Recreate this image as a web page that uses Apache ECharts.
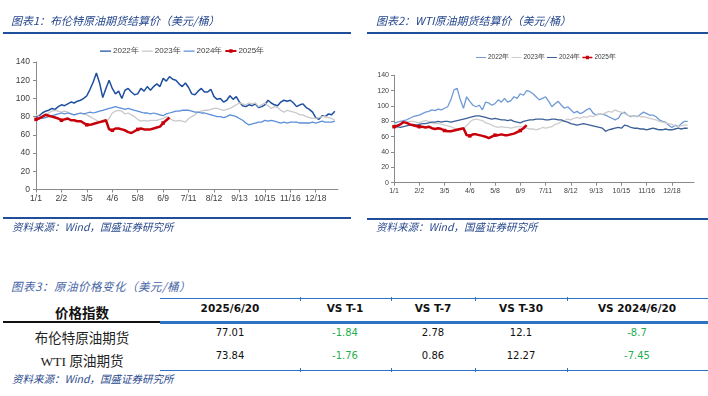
<!DOCTYPE html>
<html>
<head>
<meta charset="utf-8">
<script src="https://cdn.jsdelivr.net/npm/echarts@6/dist/echarts.min.js"></script>
<style>
  body { margin: 0; background: #fff; }
  #page { position: relative; width: 708px; height: 396px; overflow: hidden; background: #fff; }
  .chart { position: absolute; top: 0; width: 354px; height: 240px; }
  .t { position: absolute; white-space: nowrap; }
  .title { font: italic 11px "Noto Sans CJK SC", sans-serif; color: #24468c; }
  .src { font: italic 10.5px "Noto Sans CJK SC", sans-serif; color: #2a4a8c; }
  .rule { position: absolute; height: 2px; background: #1f4e9a; }
  .hl { position: absolute; background: #2e74c6; }
  .cell { position: absolute; width: 160px; text-align: center; height: 18px; line-height: 18px; white-space: nowrap; }
  .hd { font: bold 10.5px "DejaVu Sans", sans-serif; color: #111; }
  .num { font: 10px "DejaVu Sans", sans-serif; color: #111; }
  .neg { color: #1fae4f; }
  .rowname { font: 13.5px "Liberation Serif", "Noto Sans CJK SC", serif; color: #222; }
</style>
</head>
<body>
<div id="page">
  <div id="chart1" class="chart" style="left:0"></div>
  <div id="chart2" class="chart" style="left:354px"></div>

  <div class="t title" style="left:11px;top:12px">图表1：布伦特原油期货结算价（美元/桶）</div>
  <div class="rule" style="left:3px;top:32px;width:348px"></div>
  <div class="rule" style="left:3px;top:217px;width:348px"></div>
  <div class="t src" style="left:12px;top:219px">资料来源：Wind，国盛证券研究所</div>

  <div class="t title" style="left:376px;top:12px">图表2：WTI原油期货结算价（美元/桶）</div>
  <div class="rule" style="left:367px;top:32px;width:341px"></div>
  <div class="rule" style="left:367px;top:218px;width:341px"></div>
  <div class="t src" style="left:376px;top:219px">资料来源：Wind，国盛证券研究所</div>

  <div class="t title" style="left:11px;top:278px;color:#4866a6;font-size:11.5px;letter-spacing:0.5px">图表3：原油价格变化（美元/桶）</div>
  <div id="table"></div>
  <div class="t src" style="left:12px;top:371px">资料来源：Wind，国盛证券研究所</div>
</div>
<script>
// x axis: one slot every 4 days, a label every 8 slots
var dayTicks = ['1/1', '2/2', '3/5', '4/6', '5/8', '6/9', '7/11', '8/12', '9/13', '10/15', '11/16', '12/18'];
var slotCount = 96;
var slotsPerTick = 8;
var legendNames = ['2022年', '2023年', '2024年', '2025年'];

// 布伦特 (USD/bbl)
var brent2022 = [79, 81, 84, 86, 87, 89, 88, 91, 93, 92,
  94, 96, 95, 97, 98, 100, 103, 110, 118, 128,
  117, 101, 111, 120, 111, 105, 108, 100, 109, 111,
  107, 104, 105, 111, 108, 113, 109, 113, 116, 113,
  122, 119, 124, 121, 120, 116, 113, 117, 112, 105,
  104, 108, 111, 107, 107, 110, 102, 99, 100, 96,
  98, 103, 99, 102, 96, 92, 91, 93, 92, 94,
  90, 91, 93, 98, 95, 93, 92, 96, 98, 97,
  98, 95, 91, 93, 94, 90, 88, 85, 79, 77,
  81, 80, 83, 82, 86];
var brent2023 = [82, 80, 79, 82, 84, 86, 87, 86, 85, 86,
  85, 83, 82, 83, 84, 83, 82, 80, 78, 76,
  74, 74, 75, 78, 84, 86, 87, 86, 83, 84,
  82, 80, 77, 75, 76, 75, 76, 76, 76, 77,
  78, 80, 78, 76, 75, 76, 75, 74, 78, 80,
  82, 85, 86, 87, 87, 88, 89, 89, 88, 87,
  88, 89, 91, 93, 95, 94, 93, 95, 94, 95,
  91, 93, 95, 92, 89, 91, 90, 87, 85, 87,
  86, 85, 84, 82, 82, 80, 79, 78, 78, 79,
  80, 80, 79, 78, 76];
var brent2024 = [78, 79, 78, 79, 80, 81, 82, 83, 84, 83,
  84, 83, 82, 83, 84, 83, 84, 85, 84, 85,
  86, 87, 88, 89, 90, 91, 90, 89, 88, 89,
  88, 87, 86, 85, 84, 84, 83, 84, 83, 82,
  81, 83, 84, 85, 86, 86, 87, 87, 87, 86,
  85, 85, 84, 84, 83, 82, 81, 80, 80, 79,
  80, 82, 81, 80, 78, 76, 73, 71, 72, 73,
  74, 74, 76, 75, 76, 75, 74, 73, 74, 73,
  74, 74, 74, 73, 73, 73, 73, 74, 73, 74,
  75, 74, 74, 74, 75];
var brent2025 = [77, 78, 80, 82, 81, 80, 79, 78, 76, 77,
  78, 76, 76, 75, 75, 73, 71, 71, 72, 73,
  74, 75, 76, 66, 65, 67, 67, 66, 65, 63,
  62, 64, 66, 67, 66, 66, 66, 67, 68, 69,
  73, 76, 79];

// WTI (USD/bbl)
var wti2022 = [77, 79, 80, 81, 82, 84, 86, 87, 88, 90,
  92, 93, 95, 94, 96, 95, 97, 99, 108, 121,
  123, 108, 97, 112, 106, 101, 99, 101, 95, 105,
  104, 101, 103, 108, 105, 110, 105, 107, 112, 110,
  116, 114, 120, 119, 116, 112, 108, 110, 112, 106,
  99, 103, 106, 101, 97, 99, 95, 91, 93, 90,
  92, 95, 97, 91, 88, 90, 89, 88, 86, 84,
  82, 84, 90, 92, 88, 86, 87, 86, 89, 92,
  90, 88, 88, 86, 82, 80, 79, 75, 72, 75,
  73, 77, 80, 80];
var wti2023 = [77, 75, 76, 78, 79, 80, 80, 79, 78, 80,
  81, 80, 78, 77, 77, 76, 75, 74, 73, 71,
  70, 69, 71, 74, 79, 82, 83, 82, 81, 78,
  77, 75, 73, 72, 73, 72, 72, 71, 72, 73,
  73, 72, 71, 70, 70, 69, 70, 72, 71, 72,
  73, 76, 77, 80, 81, 83, 82, 84, 85, 84,
  86, 85, 87, 86, 88, 90, 89, 91, 93, 92,
  95, 93, 92, 90, 88, 87, 86, 87, 86, 86,
  85, 84, 83, 82, 80, 79, 78, 77, 76, 74,
  73, 74, 75, 75];
var wti2024 = [72, 73, 72, 73, 74, 75, 76, 75, 76, 77,
  77, 78, 79, 79, 80, 79, 80, 80, 79, 80,
  81, 82, 83, 84, 85, 86, 87, 87, 86, 85,
  84, 83, 84, 83, 82, 82, 81, 82, 80, 79,
  78, 80, 81, 82, 82, 83, 83, 83, 82, 82,
  83, 83, 82, 82, 80, 79, 77, 76, 75, 76,
  77, 76, 75, 74, 73, 72, 71, 67, 69, 70,
  71, 72, 71, 75, 74, 72, 71, 71, 70, 70,
  69, 70, 71, 70, 69, 69, 70, 69, 69, 70,
  71, 70, 71, 71];
var wti2025 = [73, 74, 76, 79, 78, 76, 75, 74, 73, 73,
  72, 73, 71, 70, 71, 70, 68, 67, 67, 68,
  69, 70, 71, 62, 61, 63, 63, 62, 61, 60,
  58, 60, 62, 62, 63, 62, 62, 63, 64, 66,
  68, 71, 75];

// table
var tableHeads = ['价格指数', '2025/6/20', 'VS T-1', 'VS T-7', 'VS T-30', 'VS 2024/6/20'];
var tableRows = ['布伦特原油期货', 'WTI 原油期货'];
var tableValues = [
  [77.01, -1.84, 2.78, 12.1, -8.7],
  [73.84, -1.76, 0.86, 12.27, -7.45]
];

var slots = [];
for (var s = 0; s < slotCount; s++) slots.push(String(s));

// legend glyphs: plain line, or line with a square for 2025
var lineIcon = 'path://M0,0L0,0ZM0,2.5H12V3.7H0ZM0,6L0,6Z';
var markIcon = 'path://M0,0L0,0ZM0,2H12V4H0ZM4.2,1H7.8V5H4.2ZM0,6L0,6Z';

function onTick(index) {
  return index % slotsPerTick === 0 && index / slotsPerTick < dayTicks.length;
}

function makeSeries(name, data, color, width, red) {
  var o = {
    name: name,
    type: 'line',
    data: data,
    smooth: false,
    animation: false,
    lineStyle: { color: color, width: width },
    itemStyle: { color: color }
  };
  if (red) {
    o.symbol = 'rect';
    o.symbolSize = 3.5;
    o.showSymbol = true;
    o.z = 5;
  } else {
    o.symbol = 'none';
  }
  return o;
}

function makeOption(cfg) {
  return {
    backgroundColor: 'transparent',
    animation: false,
    legend: {
      data: legendNames.map(function (n, i) {
        return { name: n, icon: i === 3 ? markIcon : lineIcon };
      }),
      left: cfg.legendLeft,
      top: cfg.legendTop,
      padding: 0,
      itemWidth: cfg.legendIcon,
      itemHeight: 6,
      itemGap: cfg.legendGap,
      textStyle: { fontSize: cfg.legendFont, color: '#404040', fontFamily: 'Liberation Sans', padding: [0, 0, 0, -3] }
    },
    grid: { left: cfg.left, top: cfg.top, width: cfg.width, height: cfg.height, containLabel: false },
    xAxis: {
      type: 'category',
      data: slots,
      boundaryGap: false,
      axisLine: { lineStyle: { color: '#8a8a8a', width: 1 } },
      axisTick: { interval: onTick, length: 3, lineStyle: { color: '#8a8a8a' } },
      axisLabel: {
        interval: onTick,
        margin: 5,
        fontSize: cfg.labelFont,
        color: '#404040',
        fontFamily: 'Liberation Sans',
        formatter: function (v, idx) { return dayTicks[idx / slotsPerTick]; }
      },
      splitLine: { show: false }
    },
    yAxis: {
      type: 'value',
      min: 0,
      max: 140,
      interval: 20,
      axisLine: { show: true, lineStyle: { color: '#8a8a8a', width: 1 } },
      axisTick: { show: true, length: 3, lineStyle: { color: '#8a8a8a' } },
      axisLabel: { margin: cfg.yMargin, fontSize: cfg.labelFont, color: '#404040', fontFamily: 'Liberation Sans' },
      splitLine: { show: false }
    },
    series: cfg.series
  };
}

var chart1 = echarts.init(document.getElementById('chart1'), null, { renderer: 'canvas' });
chart1.setOption(makeOption({
  legendLeft: 100, legendTop: 47, legendIcon: 11, legendFont: 8, legendGap: 3,
  left: 36, top: 62, width: 302, height: 127.5,
  labelFont: 8.5, yMargin: 6,
  series: [
    makeSeries('2022年', brent2022, '#1f4fa0', 1.5),
    makeSeries('2023年', brent2023, '#c9c9c9', 1.3),
    makeSeries('2024年', brent2024, '#5b8fd8', 1.3),
    makeSeries('2025年', brent2025, '#c8000a', 2.5, true)
  ]
}));

var chart2 = echarts.init(document.getElementById('chart2'), null, { renderer: 'canvas' });
chart2.setOption(makeOption({
  legendLeft: 122, legendTop: 54, legendIcon: 10, legendFont: 6.5, legendGap: 2,
  left: 40, top: 75.3, width: 300, height: 107.4,
  labelFont: 7, yMargin: 5,
  series: [
    makeSeries('2022年', wti2022, '#6f9ad6', 1.3),
    makeSeries('2023年', wti2023, '#cdcdcd', 1.3),
    makeSeries('2024年', wti2024, '#3b5f98', 1.3),
    makeSeries('2025年', wti2025, '#c8000a', 2.5, true)
  ]
}));

// table drawn as positioned text
var colCenters = [82, 230, 345, 433, 521, 637];
var colSeps = [300, 391, 475, 567];
var headY = 311, rowY = [336, 359];
var html = '';
html += '<div class="hl" style="left:160px;top:298px;width:548px;height:1px"></div>';
html += '<div class="hl" style="left:160px;top:321px;width:548px;height:3px"></div>';
html += '<div class="hl" style="left:3px;top:321px;width:157px;height:2px;background:#111"></div>';
html += '<div class="hl" style="left:160px;top:370px;width:548px;height:1px"></div>';
colSeps.forEach(function (x) {
  html += '<div class="hl" style="left:' + x + 'px;top:297px;width:1px;height:4px"></div>';
  html += '<div class="hl" style="left:' + x + 'px;top:368px;width:1px;height:4px"></div>';
});
tableHeads.forEach(function (h, i) {
  var style = i === 0 ? 'font:bold 13.5px \'Noto Sans CJK SC\',sans-serif;color:#111' : '';
  html += '<div class="cell hd" style="left:' + (colCenters[i] - 80) + 'px;top:' + (headY - 9) + 'px;' + style + '">' + h + '</div>';
});
tableRows.forEach(function (r, ri) {
  html += '<div class="cell rowname" style="left:' + (colCenters[0] - 80) + 'px;top:' + (rowY[ri] - 9) + 'px">' + r + '</div>';
  tableValues[ri].forEach(function (v, ci) {
    var cls = v < 0 ? 'cell num neg' : 'cell num';
    html += '<div class="' + cls + '" style="left:' + (colCenters[ci + 1] - 80) + 'px;top:' + (rowY[ri] - 9) + 'px">' + v + '</div>';
  });
});
document.getElementById('table').innerHTML = html;
</script>
</body>
</html>
